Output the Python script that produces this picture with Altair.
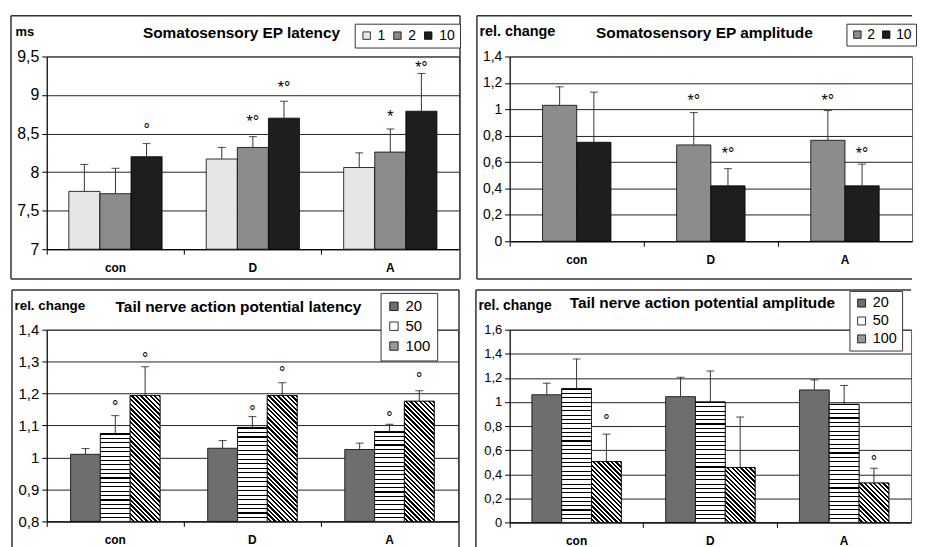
import altair as alt
import pandas as pd

FONT = "Liberation Sans"
groups = ["con", "D", "A"]

# ---------- Panel 1: Somatosensory EP latency (ms)
lat_series = ["1", "2", "10"]
lat_mean_1 = [7.75, 8.17, 8.06]
lat_mean_2 = [7.72, 8.32, 8.26]
lat_mean_10 = [8.20, 8.70, 8.79]
lat_err_1 = [8.10, 8.32, 8.25]
lat_err_2 = [8.05, 8.46, 8.56]
lat_err_10 = [8.37, 8.92, 9.28]
lat_ann_1 = ["", "", ""]
lat_ann_2 = ["", "*°", "*"]
lat_ann_10 = ["°", "*°", "*°"]
lat_ann_y_1 = [None, None, None]
lat_ann_y_2 = [None, 8.69, 8.76]
lat_ann_y_10 = [8.59, 9.14, 9.40]
lat_ticks = [7, 7.5, 8, 8.5, 9, 9.5]

# ---------- Panel 2: Somatosensory EP amplitude (rel. change)
amp_series = ["2", "10"]
amp_mean_2 = [1.03, 0.73, 0.765]
amp_mean_10 = [0.75, 0.42, 0.42]
amp_err_2 = [1.17, 0.975, 0.99]
amp_err_10 = [1.13, 0.55, 0.585]
amp_ann_2 = ["", "*°", "*°"]
amp_ann_10 = ["", "*°", "*°"]
amp_ann_y_2 = [None, 1.09, 1.09]
amp_ann_y_10 = [None, 0.69, 0.69]
amp_ticks = [0, 0.2, 0.4, 0.6, 0.8, 1, 1.2, 1.4]

# ---------- Panel 3: Tail nerve action potential latency (rel. change)
tl_series = ["20", "50", "100"]
tl_mean_20 = [1.010, 1.029, 1.025]
tl_mean_50 = [1.075, 1.094, 1.081]
tl_mean_100 = [1.194, 1.194, 1.176]
tl_err_20 = [1.028, 1.053, 1.045]
tl_err_50 = [1.131, 1.128, 1.104]
tl_err_100 = [1.284, 1.234, 1.209]
tl_ann_20 = ["", "", ""]
tl_ann_50 = ["°", "°", "°"]
tl_ann_100 = ["°", "°", "°"]
tl_ann_y_20 = [None, None, None]
tl_ann_y_50 = [1.17, 1.153, 1.133]
tl_ann_y_100 = [1.319, 1.275, 1.258]
tl_ticks = [0.8, 0.9, 1, 1.1, 1.2, 1.3, 1.4]

# ---------- Panel 4: Tail nerve action potential amplitude (rel. change)
ta_series = ["20", "50", "100"]
ta_mean_20 = [1.06, 1.044, 1.10]
ta_mean_50 = [1.11, 1.00, 0.98]
ta_mean_100 = [0.505, 0.456, 0.327]
ta_err_20 = [1.156, 1.205, 1.183]
ta_err_50 = [1.357, 1.257, 1.137]
ta_err_100 = [0.733, 0.875, 0.45]
ta_ann_20 = ["", "", ""]
ta_ann_50 = ["", "", ""]
ta_ann_100 = ["°", "", "°"]
ta_ann_y_20 = [None, None, None]
ta_ann_y_50 = [None, None, None]
ta_ann_y_100 = [0.873, None, 0.529]
ta_ticks = [0, 0.2, 0.4, 0.6, 0.8, 1, 1.2, 1.4, 1.6]


def make_df(series, means, errs, anns, ann_ys, base):
    rows = []
    for s, m, e, a, ay in zip(series, means, errs, anns, ann_ys):
        for i, g in enumerate(groups):
            rows.append(dict(group=g, series=s, mean=m[i], err=e[i],
                             ann=a[i], ann_y=ay[i], base=base))
    return pd.DataFrame(rows)


def one():
    return pd.DataFrame({"k": [0]})


def stripes_h(n, frac=0.25):
    stops = []
    for i in range(n):
        a = i / n
        b = (i + frac) / n
        c = (i + 1) / n
        stops += [alt.GradientStop(color="#000", offset=round(a, 5)),
                  alt.GradientStop(color="#000", offset=round(b, 5)),
                  alt.GradientStop(color="#fff", offset=round(b, 5)),
                  alt.GradientStop(color="#fff", offset=round(c, 5))]
    return alt.LinearGradient(gradient="linear", stops=stops, x1=0, y1=0, x2=0, y2=1)


def stripes_diag(W, H, period=4.6, frac=0.5):
    r = H / W
    k = (1 + r) / (1 + r * r)
    n = max(1, round((W + H) / period))
    stops = []
    for i in range(n):
        a = i / n
        b = (i + frac) / n
        c = (i + 1) / n
        stops += [alt.GradientStop(color="#fff", offset=round(a, 5)),
                  alt.GradientStop(color="#fff", offset=round(b, 5)),
                  alt.GradientStop(color="#000", offset=round(b, 5)),
                  alt.GradientStop(color="#000", offset=round(c, 5))]
    return alt.LinearGradient(gradient="linear", stops=stops,
                              x1=0, y1=1, x2=round(k, 5), y2=round(1 - k * r, 5))


def panel(df, series, colors, domain, ticks, w, h, pad_outer, ytitle, ytitle_xy, ytitle_size,
          title, title_xy, legend_xy, legend_dir, legend_opts, frame, ylabel_size,
          patterns=False):
    lo, hi = domain
    xenc = alt.X("group:N",
                 scale=alt.Scale(domain=groups, paddingInner=0, paddingOuter=0),
                 axis=alt.Axis(title=None, labelAngle=0, labelFontWeight="bold",
                               labelFontSize=12, bandPosition=0, tickSize=5,
                               labelPadding=8, grid=False))
    xoff = alt.XOffset("series:N",
                       scale=alt.Scale(domain=series, paddingInner=0, paddingOuter=pad_outer))
    yscale = alt.Scale(domain=[lo, hi], nice=False, zero=False)
    yaxis = alt.Axis(values=ticks, title=ytitle, titleAngle=0, titleX=ytitle_xy[0],
                     titleY=ytitle_xy[1], titleAlign="left", titleBaseline="middle",
                     titleFontWeight="bold", titleFontSize=ytitle_size,
                     labelFontSize=ylabel_size,
                     labelExpr="replace(toString(datum.value), '.', ',')",
                     labelOverlap=False, tickSize=5, labelPadding=3, grid=True)

    def Y(field):
        return alt.Y(field, scale=yscale, axis=yaxis)

    base = alt.Chart(df)
    layers = []

    bars = base.mark_bar(stroke="#000", strokeWidth=0.8, opacity=1).encode(
        x=xenc, xOffset=xoff,
        y=Y("mean:Q"),
        y2="base:Q",
        color=alt.Color("series:N",
                        scale=alt.Scale(domain=series, range=colors),
                        legend=alt.Legend(title=None, orient="none",
                                          legendX=legend_xy[0], legendY=legend_xy[1],
                                          direction=legend_dir, strokeColor="#333",
                                          fillColor="#fff",
                                          symbolType="square",
                                          symbolStrokeColor="#000",
                                          symbolStrokeWidth=0.8, symbolOpacity=1,
                                          labelFont=FONT,
                                          labelColor="#000", **legend_opts)),
    )
    layers.append(bars)

    # frame around the panel (decoration)
    fx1, fx2, fy1, fy2, sides = frame
    fr = alt.Chart(one())
    if "t" in sides:
        layers.append(fr.mark_rule(color="#333", strokeWidth=1.5).encode(
            x=alt.value(fx1), x2=alt.value(fx2), y=alt.value(fy1)))
    if "l" in sides:
        layers.append(fr.mark_rule(color="#333", strokeWidth=1.5).encode(
            x=alt.value(fx1), y=alt.value(fy1), y2=alt.value(fy2)))
    if "r" in sides:
        layers.append(fr.mark_rule(color="#333", strokeWidth=1.5).encode(
            x=alt.value(fx2), y=alt.value(fy1), y2=alt.value(fy2)))
    if "b" in sides:
        layers.append(fr.mark_rule(color="#333", strokeWidth=1.5).encode(
            x=alt.value(fx1), x2=alt.value(fx2), y=alt.value(fy2)))

    if patterns:
        n = len(series)
        step = (w / 3) / (n + 2 * pad_outer)
        scale_px = h / (hi - lo)
        for s in ["50", "100"]:
            for g in groups:
                v = float(df[(df.series == s) & (df.group == g)]["mean"].iloc[0])
                H = (v - lo) * scale_px
                if s == "50":
                    fill = stripes_h(max(1, round(H / 4.4)))
                else:
                    fill = stripes_diag(step, H)
                layers.append(
                    base.transform_filter((alt.datum.series == s) & (alt.datum.group == g))
                    .mark_bar(fill=fill, stroke="#000", strokeWidth=0.8)
                    .encode(x=xenc, xOffset=xoff, y=Y("mean:Q"), y2="base:Q"))

    err = base.mark_rule(color="#333", strokeWidth=1).encode(
        x=xenc, xOffset=xoff, y=Y("mean:Q"), y2="err:Q")
    caps = base.mark_tick(color="#000", size=8, thickness=1).encode(
        x=xenc, xOffset=xoff, y=Y("err:Q"))
    anns = base.transform_filter(alt.datum.ann != "").mark_text(
        font=FONT, fontSize=16, baseline="middle", dy=3.5, color="#000").encode(
        x=xenc, xOffset=xoff, y=Y("ann_y:Q"), text="ann:N")
    ttl = alt.Chart(one()).mark_text(font=FONT, fontSize=15.5, fontWeight="bold",
                                     align="center", baseline="middle", color="#000").encode(
        x=alt.value(title_xy[0]), y=alt.value(title_xy[1]), text=alt.value(title))
    layers += [err, caps, anns, ttl]
    return alt.layer(*layers).properties(width=w, height=h)


df1 = make_df(lat_series, [lat_mean_1, lat_mean_2, lat_mean_10],
              [lat_err_1, lat_err_2, lat_err_10], [lat_ann_1, lat_ann_2, lat_ann_10],
              [lat_ann_y_1, lat_ann_y_2, lat_ann_y_10], 7)
df2 = make_df(amp_series, [amp_mean_2, amp_mean_10], [amp_err_2, amp_err_10],
              [amp_ann_2, amp_ann_10], [amp_ann_y_2, amp_ann_y_10], 0)
df3 = make_df(tl_series, [tl_mean_20, tl_mean_50, tl_mean_100],
              [tl_err_20, tl_err_50, tl_err_100], [tl_ann_20, tl_ann_50, tl_ann_100],
              [tl_ann_y_20, tl_ann_y_50, tl_ann_y_100], 0.8)
df4 = make_df(ta_series, [ta_mean_20, ta_mean_50, ta_mean_100],
              [ta_err_20, ta_err_50, ta_err_100], [ta_ann_20, ta_ann_50, ta_ann_100],
              [ta_ann_y_20, ta_ann_y_50, ta_ann_y_100], 0)

leg_h = dict(padding=5, symbolSize=56, labelFontSize=14, columnPadding=5, labelOffset=4)
leg_h2 = dict(padding=4, symbolSize=56, labelFontSize=14, columnPadding=4, labelOffset=3)
leg_v3 = dict(padding=6, symbolSize=72, labelFontSize=15, rowPadding=4, labelOffset=4)
leg_v4 = dict(padding=5, symbolSize=64, labelFontSize=14.5, rowPadding=3, labelOffset=4)

p1 = panel(df1, lat_series, ["#e6e6e6", "#8c8c8c", "#1e1e1e"], (7, 9.5), lat_ticks,
           415, 194, 0.71, "ms", (-32, -25), 13, "Somatosensory EP latency", (196, -24),
           (310, -33), "horizontal", leg_h, (-36, 416, -41, 224, "tlrb"), 16)
p2 = panel(df2, amp_series, ["#8c8c8c", "#1e1e1e"], (0, 1.4), amp_ticks,
           405, 186, 0.96, "rel. change", (-31, -25), 14.5, "Somatosensory EP amplitude",
           (196, -24), (339, -33), "horizontal", leg_h2, (-33, 405, -41, 224, "tlb"), 14)
p3 = panel(df3, tl_series, ["#6e6e6e", "#ffffff", "#9a9a9a"], (0.8, 1.4), tl_ticks,
           414, 193, 0.8, "rel. change", (-33, -24), 13.5,
           "Tail nerve action potential latency",
           (193, -23), (336, -37), "vertical", leg_v3, (-35, 415, -40, 222, "tlr"), 15,
           patterns=True)
p4 = panel(df4, ta_series, ["#6e6e6e", "#ffffff", "#9a9a9a"], (0, 1.6), ta_ticks,
           404, 194, 0.745, "rel. change", (-32, -24), 14,
           "Tail nerve action potential amplitude",
           (194, -27), (342, -39), "vertical", leg_v4, (-34, 404, -40, 222, "tl"), 13,
           patterns=True)

chart = alt.concat(p1, p2, p3, p4, columns=2, spacing={"row": 81, "column": 51},
                   bounds="flush").resolve_scale(
    color="independent", x="independent", y="independent",
    xOffset="independent").properties(
    padding={"left": 1, "top": 4, "right": 0, "bottom": 0}
).configure_view(stroke="#666", strokeWidth=1).configure_axis(
    labelFont=FONT, titleFont=FONT, labelColor="#000", titleColor="#000",
    domainColor="#000", tickColor="#000", gridColor="#222", gridWidth=1,
    domainWidth=1
)

chart.save("out.html", embed_options={"renderer": "svg", "actions": False})
